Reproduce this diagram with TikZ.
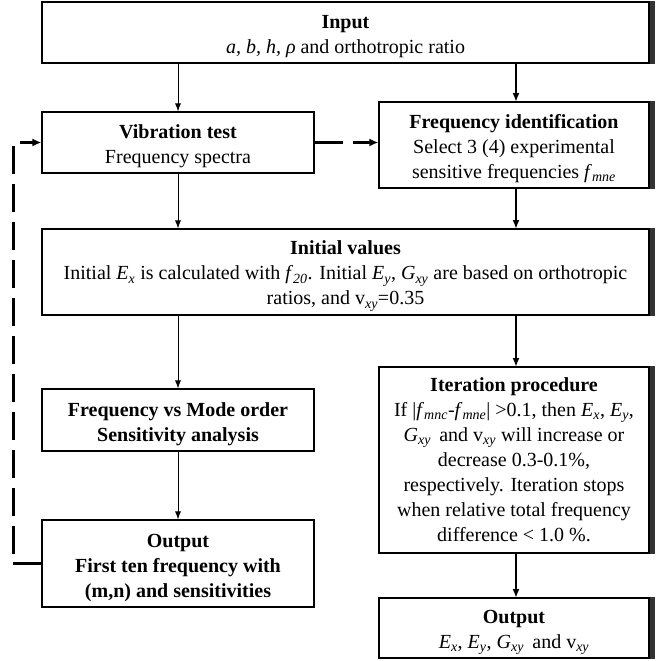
\documentclass[tikz,border=0pt]{standalone}
\usepackage{fontspec}
\setmainfont{Liberation Serif}
\usetikzlibrary{arrows.meta}
\newcommand{\vv}[2]{\textit{#1}\textsubscript{\textit{#2}}}
\newcommand{\hd}{\rule{0pt}{22pt}}

\begin{document}
\begin{tikzpicture}[x=1pt,y=-1pt,
		box/.style={draw, line width=1.2pt, fill=white, align=center, inner sep=0pt, font=\fontsize{20}{25}\selectfont},
		edgeshade/.style={fill=black!80},
		flow/.style={-{Latex[length=8pt,width=6pt]}, line width=0.8pt},
		flowbold/.style={-{Latex[length=9pt,width=7pt]}, line width=2.4pt},
		feedback/.style={-{Latex[length=9pt,width=8pt]}, line width=2.6pt, dash pattern=on 28pt off 10pt}
		]
		\useasboundingbox (0,0) rectangle (656,661);

		% left column
		\node[box, minimum width=607pt, minimum height=61pt] (input) at (345.5,32.5) {\hd\textbf{Input}\\ \textit{a, b, h, ρ} and orthotropic ratio};
		\node[box, minimum width=272pt, minimum height=61pt] (vib) at (178,142.5) {\hd\textbf{Vibration test}\\ Frequency spectra};
		\node[box, minimum width=270pt, minimum height=86pt] (fid) at (514,145) {\hd\textbf{Frequency identification}\\ Select 3 (4) experimental\\ sensitive frequencies \vv{f}{mne}};
		\node[box, minimum width=607pt, minimum height=86pt] (init) at (345.5,272) {\hd\textbf{Initial values}\\ Initial \vv{E}{x} is calculated with \vv{f}{20}. Initial \vv{E}{y}, \vv{G}{xy} are based on orthotropic\\ ratios, and v\textsubscript{\textit{xy}}=0.35};
		\node[box, minimum width=272pt, minimum height=62pt] (fvm) at (178,420) {\hd\textbf{Frequency vs Mode order}\\ \textbf{Sensitivity analysis}};
		\node[box, minimum width=272pt, minimum height=87pt] (outl) at (178,563.5) {\hd\textbf{Output}\\ \textbf{First ten frequency with}\\ \textbf{(m,n) and sensitivities}};

		% right column
		\node[box, minimum width=270pt, minimum height=186pt] (iter) at (514,460) {\textbf{Iteration procedure}\\ If |\vv{f}{mnc}-\vv{f}{mne}| >0.1, then \vv{E}{x}, \vv{E}{y},\\ \vv{G}{xy}\, and v\textsubscript{\textit{xy}} will increase or\\ decrease 0.3-0.1\%,\\ respectively. Iteration stops\\ when relative total frequency\\ difference < 1.0 \%.};
		\node[box, minimum width=270pt, minimum height=60pt] (outr) at (514,628) {\hd\textbf{Output}\\ \vv{E}{x}, \vv{E}{y}, \vv{G}{xy}\, and v\textsubscript{\textit{xy}}};

		% dark right edges
		\fill[edgeshade] (input.north east) rectangle ([xshift=5pt]input.south east);
		\fill[edgeshade] (fid.north east) rectangle ([xshift=5pt]fid.south east);
		\fill[edgeshade] (init.north east) rectangle ([xshift=5pt]init.south east);
		\fill[edgeshade] (iter.north east) rectangle ([xshift=5pt]iter.south east);
		\fill[edgeshade] (outr.north east) rectangle ([xshift=5pt]outr.south east);

		\draw[flow] (178,63) -- (vib);
		\draw[flowbold] (516,63) -- (516,102);
		\draw[feedback] (vib.east) -- (fid.west |- vib.east);
		\draw[flow] (vib) -- (vib |- init.north);
		\draw[flowbold] (516,188) -- (516,229);
		\draw[flow] (init.south -| fvm.north) -- (fvm);
		\draw[flowbold] (516,315) -- (516,367);
		\draw[flow] (fvm) -- (outl);
		\draw[flowbold] (516,553) -- (516,598);

		% feedback loop
		\draw[feedback] (outl.west) -- ++(-28,0) |- (vib.west);
	\end{tikzpicture}
\end{document}
